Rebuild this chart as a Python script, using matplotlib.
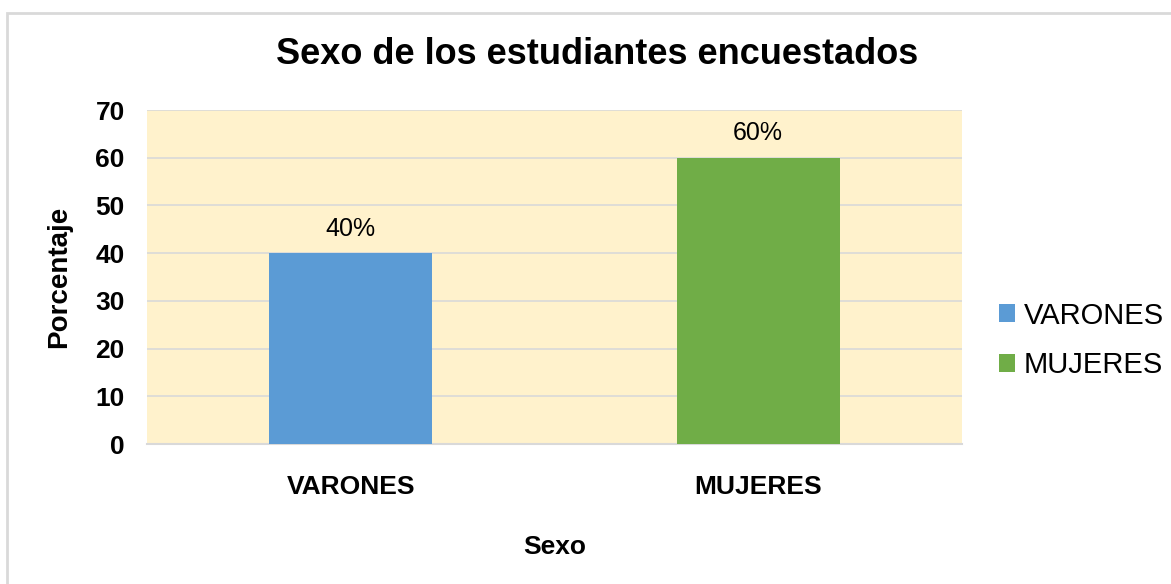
import matplotlib.pyplot as plt
from matplotlib.patches import Rectangle

plt.rcParams['font.family'] = ['Liberation Sans', 'DejaVu Sans']

categories = ["VARONES", "MUJERES"]
values = [40, 60]
labels = ["40%", "60%"]
colors = ["#5b9bd5", "#70ad47"]

W, H = 1171, 584
fig = plt.figure(figsize=(W / 100, H / 100), dpi=100)
ax = fig.add_axes([147 / W, 1 - 444 / H, (962 - 147) / W, (444 - 110) / H])

# outer chart border
fig.patches.append(Rectangle((7 / W, -0.05), 1.2, 1 - 13 / H + 0.05,
                             transform=fig.transFigure, fill=False,
                             edgecolor="#d9d9d9", linewidth=2))

ax.set_facecolor("#fff2cc")
for i, (cat, val, col) in enumerate(zip(categories, values, colors)):
    ax.bar(i, val, width=0.4, color=col, label=cat, zorder=3)
    ax.text(i, val + 2.6, labels[i], ha="center", va="bottom", fontsize=18, zorder=4)

ax.set_xlim(-0.5, 1.5)
ax.set_ylim(0, 70)
ax.set_yticks(range(0, 71, 10))
ax.yaxis.grid(True, color="#d9d9d9", linewidth=1.2, zorder=0)
ax.set_axisbelow(True)
for s in ["top", "right", "left"]:
    ax.spines[s].set_visible(False)
ax.spines["bottom"].set_color("#d9d9d9")
ax.spines["bottom"].set_linewidth(1.5)
ax.tick_params(axis="both", length=0, labelsize=19)
ax.tick_params(axis="y", pad=16)
ax.tick_params(axis="x", pad=22)
ax.set_xticks(range(len(categories)))
ax.set_xticklabels(categories, fontweight="bold")
for t in ax.get_yticklabels():
    t.set_fontweight("bold")

ax.set_ylabel("Porcentaje", fontsize=20, fontweight="bold", labelpad=17)
ax.set_xlabel("Sexo", fontsize=19, fontweight="bold", labelpad=26)
fig.text(597 / W, 1 - 55 / H, "Sexo de los estudiantes encuestados", fontsize=26,
         fontweight="bold", ha="center", va="center")

ax.legend(loc="center left", bbox_to_anchor=(1.017, 0.31), frameon=False,
          fontsize=21, handlelength=0.55, handleheight=0.55, handletextpad=0.3,
          labelspacing=0.75, borderaxespad=0.4)

fig.savefig("out.png", dpi=100)
